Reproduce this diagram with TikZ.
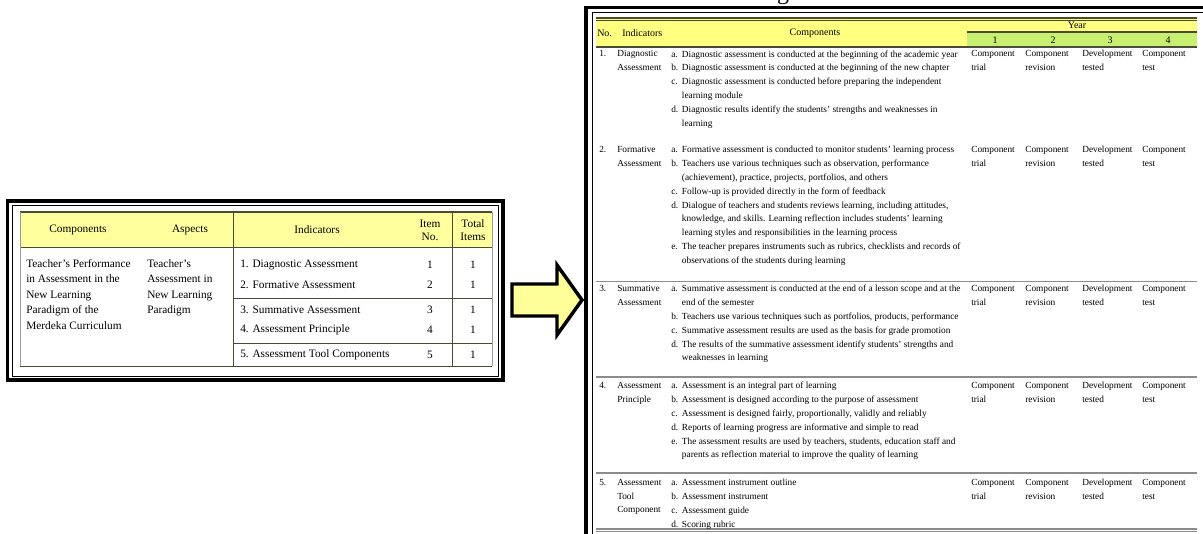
\documentclass[tikz,border=0pt]{standalone}
\usepackage{fontspec}
\setmainfont{Liberation Serif}
\definecolor{hdrY}{HTML}{FFFF9E}
\definecolor{hdrYtwo}{HTML}{FFFF80}
\definecolor{hdrG}{HTML}{C8F070}
\definecolor{arrY}{HTML}{FFFF99}
\definecolor{tline}{HTML}{4A4A38}
\newcommand{\itm}[1]{\makebox[8pt][l]{#1}}
\newcommand{\cnt}{\hspace*{8pt}}
\tikzset{
  frameouter/.style={line width=2.4pt},
  frameinner/.style={line width=0.6pt},
  tl/.style={draw=tline, line width=0.6pt},
  sepline/.style={draw=black!45, line width=0.9pt},
  ltxt/.style={inner sep=0pt, font=\fontsize{8.5}{11.6}\selectfont},
  lhead/.style={inner sep=0pt, font=\fontsize{8.5}{9.8}\selectfont, align=center},
  rtxt/.style={inner sep=0pt, font=\fontsize{7}{10.4}\selectfont, align=left, anchor=north west},
  rhead/.style={inner sep=0pt, font=\fontsize{7.5}{9}\selectfont},
  blockarrow/.style={draw=black, line width=2.6pt, fill=arrY, line join=miter}
}
\begin{document}
\begin{tikzpicture}[x=0.75pt,y=-0.75pt]
\useasboundingbox (0,0) rectangle (1203,533);
\fill[white] (0,0) rectangle (1203,533);

% ---------------- left table ----------------
\draw[frameouter] (7.5,201) rectangle (503,380);
\draw[frameinner] (12,205) rectangle (498,376);
\fill[hdrY] (20,212) rectangle (492,247);
\draw[tline, line width=1.1pt] (20,212) -- (492,212);
\draw[tl] (20,247) -- (492,247);
\draw[draw=black!40, line width=0.5pt] (20,212) -- (20,366);
\draw[draw=black!40, line width=0.5pt] (492,212) -- (492,366);
\draw[tl] (233,212) -- (233,366);
\draw[tl] (452,212) -- (452,366);
\draw[tl] (233,298) -- (492,298);
\draw[tl] (233,343) -- (492,343);
\draw[tl] (20,366) -- (492,366);

\node[ltxt] (hComp) at (78,230) {Components};
\node[ltxt] (hAsp) at (190,230) {Aspects};
\node[ltxt] (hInd) at (317,230) {Indicators};
\node[lhead] (hItem) at (430,230) {Item\\No.};
\node[lhead] (hTot) at (473,230) {Total\\Items};

\node[ltxt, align=left, anchor=north west] (comp) at (26,259)
  {Teacher's Performance\\in Assessment in the\\New Learning\\Paradigm of the\\Merdeka Curriculum};
\node[ltxt, align=left, anchor=north west] (asp) at (147,259)
  {Teacher's\\Assessment in\\New Learning\\Paradigm};

\node[ltxt, anchor=west] (i1) at (240,265) {1. Diagnostic Assessment};
\node[ltxt, anchor=west] (i2) at (240,285) {2. Formative Assessment};
\node[ltxt, anchor=west] (i3) at (240,310) {3. Summative Assessment};
\node[ltxt, anchor=west] (i4) at (240,330) {4. Assessment Principle};
\node[ltxt, anchor=west] (i5) at (240,355) {5. Assessment Tool Components};
\node[ltxt] (n1) at (430,265) {1};
\node[ltxt] (n2) at (430,285) {2};
\node[ltxt] (n3) at (430,310) {3};
\node[ltxt] (n4) at (430,330) {4};
\node[ltxt] (n5) at (430,355) {5};
\node[ltxt] (t1) at (473,265) {1};
\node[ltxt] (t2) at (473,285) {1};
\node[ltxt] (t3) at (473,310) {1};
\node[ltxt] (t4) at (473,330) {1};
\node[ltxt] (t5) at (473,355) {1};

% ---------------- arrow ----------------
\draw[blockarrow] (512,284) -- (557,284) -- (557,265) -- (582,300) -- (557,335) -- (557,316) -- (512,316) -- cycle;

% ---------------- right table frame ----------------
\node[inner sep=0pt, font=\fontsize{18}{18}\selectfont, anchor=base] (gcut) at (783,-1) {g};
\draw[frameouter] (586,545) -- (586,7.5) -- (1215,7.5);
\draw[frameinner] (592,545) -- (592,12.5) -- (1215,12.5);

\fill[hdrYtwo] (596,19) rectangle (1197,46.5);
\fill[hdrG] (967,33) rectangle (1197,46.5);
\draw[tline, line width=1.1pt] (596,18) -- (1197,18);
\draw[tline, line width=0.4pt] (596,20.5) -- (1197,20.5);
\draw[tline, line width=1.1pt] (967,32) -- (1197,32);
\draw[tline, line width=0.9pt] (596,47) -- (1197,47);
\draw[sepline] (596,281.5) -- (1197,281.5);
\draw[sepline] (596,377) -- (1197,377);
\draw[sepline] (596,473) -- (1197,473);
\draw[sepline] (596,529) -- (1197,529);
\draw[sepline] (596,531.5) -- (1197,531.5);

\node[rhead, anchor=west] (hNo) at (597,33) {No.};
\node[rhead, anchor=west] (hInd2) at (622,33) {Indicators};
\node[rhead] (hComp2) at (815,33) {Components};
\node[rhead] (hYear) at (1077,25.5) {Year};
\node[rhead] (y1) at (995,40) {1};
\node[rhead] (y2) at (1053,40) {2};
\node[rhead] (y3) at (1110,40) {3};
\node[rhead] (y4) at (1168,40) {4};

% row 1
\node[rtxt] (r1n) at (599,50.2) {1.};
\node[rtxt] (r1i) at (617,50.2) {Diagnostic\\Assessment};
\node[rtxt] (r1c) at (671,50.2) {%
\itm{a.}Diagnostic assessment is conducted at the beginning of the academic year\\
\itm{b.}Diagnostic assessment is conducted at the beginning of the new chapter\\
\itm{c.}Diagnostic assessment is conducted before preparing the independent\\
\cnt learning module\\
\itm{d.}Diagnostic results identify the students' strengths and weaknesses in\\
\cnt learning};
\node[rtxt] (r1a) at (971,50.2) {Component\\trial};
\node[rtxt] (r1b) at (1025,50.2) {Component\\revision};
\node[rtxt] (r1d) at (1082,50.2) {Development\\tested};
\node[rtxt] (r1e) at (1142,50.2) {Component\\test};

% row 2
\node[rtxt] (r2n) at (599,145.8) {2.};
\node[rtxt] (r2i) at (617,145.8) {Formative\\Assessment};
\node[rtxt] (r2c) at (671,145.8) {%
\itm{a.}Formative assessment is conducted to monitor students' learning process\\
\itm{b.}Teachers use various techniques such as observation, performance\\
\cnt (achievement), practice, projects, portfolios, and others\\
\itm{c.}Follow-up is provided directly in the form of feedback\\
\itm{d.}Dialogue of teachers and students reviews learning, including attitudes,\\
\cnt knowledge, and skills. Learning reflection includes students' learning\\
\cnt learning styles and responsibilities in the learning process\\
\itm{e.}The teacher prepares instruments such as rubrics, checklists and records of\\
\cnt observations of the students during learning};
\node[rtxt] (r2a) at (971,145.8) {Component\\trial};
\node[rtxt] (r2b) at (1025,145.8) {Component\\revision};
\node[rtxt] (r2d) at (1082,145.8) {Development\\tested};
\node[rtxt] (r2e) at (1142,145.8) {Component\\test};

% row 3
\node[rtxt] (r3n) at (599,284.8) {3.};
\node[rtxt] (r3i) at (617,284.8) {Summative\\Assessment};
\node[rtxt] (r3c) at (671,284.8) {%
\itm{a.}Summative assessment is conducted at the end of a lesson scope and at the\\
\cnt end of the semester\\
\itm{b.}Teachers use various techniques such as portfolios, products, performance\\
\itm{c.}Summative assessment results are used as the basis for grade promotion\\
\itm{d.}The results of the summative assessment identify students' strengths and\\
\cnt weaknesses in learning};
\node[rtxt] (r3a) at (971,284.8) {Component\\trial};
\node[rtxt] (r3b) at (1025,284.8) {Component\\revision};
\node[rtxt] (r3d) at (1082,284.8) {Development\\tested};
\node[rtxt] (r3e) at (1142,284.8) {Component\\test};

% row 4
\node[rtxt] (r4n) at (599,381.8) {4.};
\node[rtxt] (r4i) at (617,381.8) {Assessment\\Principle};
\node[rtxt] (r4c) at (671,381.8) {%
\itm{a.}Assessment is an integral part of learning\\
\itm{b.}Assessment is designed according to the purpose of assessment\\
\itm{c.}Assessment is designed fairly, proportionally, validly and reliably\\
\itm{d.}Reports of learning progress are informative and simple to read\\
\itm{e.}The assessment results are used by teachers, students, education staff and\\
\cnt parents as reflection material to improve the quality of learning};
\node[rtxt] (r4a) at (971,381.8) {Component\\trial};
\node[rtxt] (r4b) at (1025,381.8) {Component\\revision};
\node[rtxt] (r4d) at (1082,381.8) {Development\\tested};
\node[rtxt] (r4e) at (1142,381.8) {Component\\test};

% row 5
\node[rtxt] (r5n) at (599,478.8) {5.};
\node[rtxt] (r5i) at (617,478.8) {Assessment\\Tool\\Component};
\node[rtxt] (r5c) at (671,478.8) {%
\itm{a.}Assessment instrument outline\\
\itm{b.}Assessment instrument\\
\itm{c.}Assessment guide\\
\itm{d.}Scoring rubric};
\node[rtxt] (r5a) at (971,478.8) {Component\\trial};
\node[rtxt] (r5b) at (1025,478.8) {Component\\revision};
\node[rtxt] (r5d) at (1082,478.8) {Development\\tested};
\node[rtxt] (r5e) at (1142,478.8) {Component\\test};
\end{tikzpicture}
\end{document}
